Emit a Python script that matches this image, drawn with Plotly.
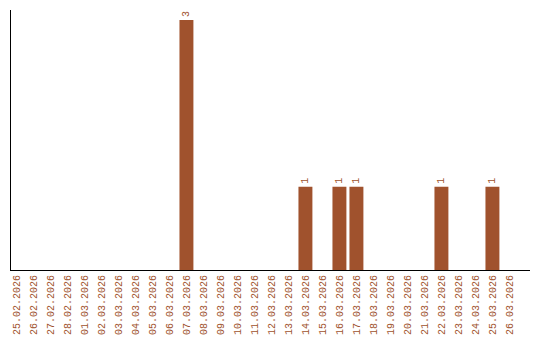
import plotly.graph_objects as go

dates = ["25.02.2026", "26.02.2026", "27.02.2026", "28.02.2026", "01.03.2026",
         "02.03.2026", "03.03.2026", "04.03.2026", "05.03.2026", "06.03.2026",
         "07.03.2026", "08.03.2026", "09.03.2026", "10.03.2026", "11.03.2026",
         "12.03.2026", "13.03.2026", "14.03.2026", "15.03.2026", "16.03.2026",
         "17.03.2026", "18.03.2026", "19.03.2026", "20.03.2026", "21.03.2026",
         "22.03.2026", "23.03.2026", "24.03.2026", "25.03.2026", "26.03.2026"]
counts = [0, 0, 0, 0, 0, 0, 0, 0, 0, 0,
          3, 0, 0, 0, 0, 0, 0, 1, 0, 1,
          1, 0, 0, 0, 0, 1, 0, 0, 1, 0]

color = "#A0522D"
labels = [str(c) if c > 0 else "" for c in counts]

fig = go.Figure(go.Bar(
    x=dates, y=counts, marker_color=color, marker_line_width=0,
    text=labels, textposition="outside", textangle=-90,
    textfont=dict(family="Liberation Mono", size=10, color=color),
    cliponaxis=False,
))
fig.update_layout(
    width=540, height=340,
    margin=dict(l=11, r=10, t=10, b=70),
    plot_bgcolor="white", paper_bgcolor="white",
    bargap=0.18, showlegend=False,
    xaxis=dict(type="category", range=[-0.32, 30.21], showline=True, linecolor="black",
               linewidth=1, ticks="", tickangle=-90, showgrid=False, automargin=False,
               tickfont=dict(family="Liberation Mono", size=10, color=color)),
    yaxis=dict(range=[0, 3.12], showline=True, linecolor="black", linewidth=1,
               showticklabels=False, ticks="", showgrid=False, zeroline=False,
               automargin=False),
)
fig.write_html("out.html")
